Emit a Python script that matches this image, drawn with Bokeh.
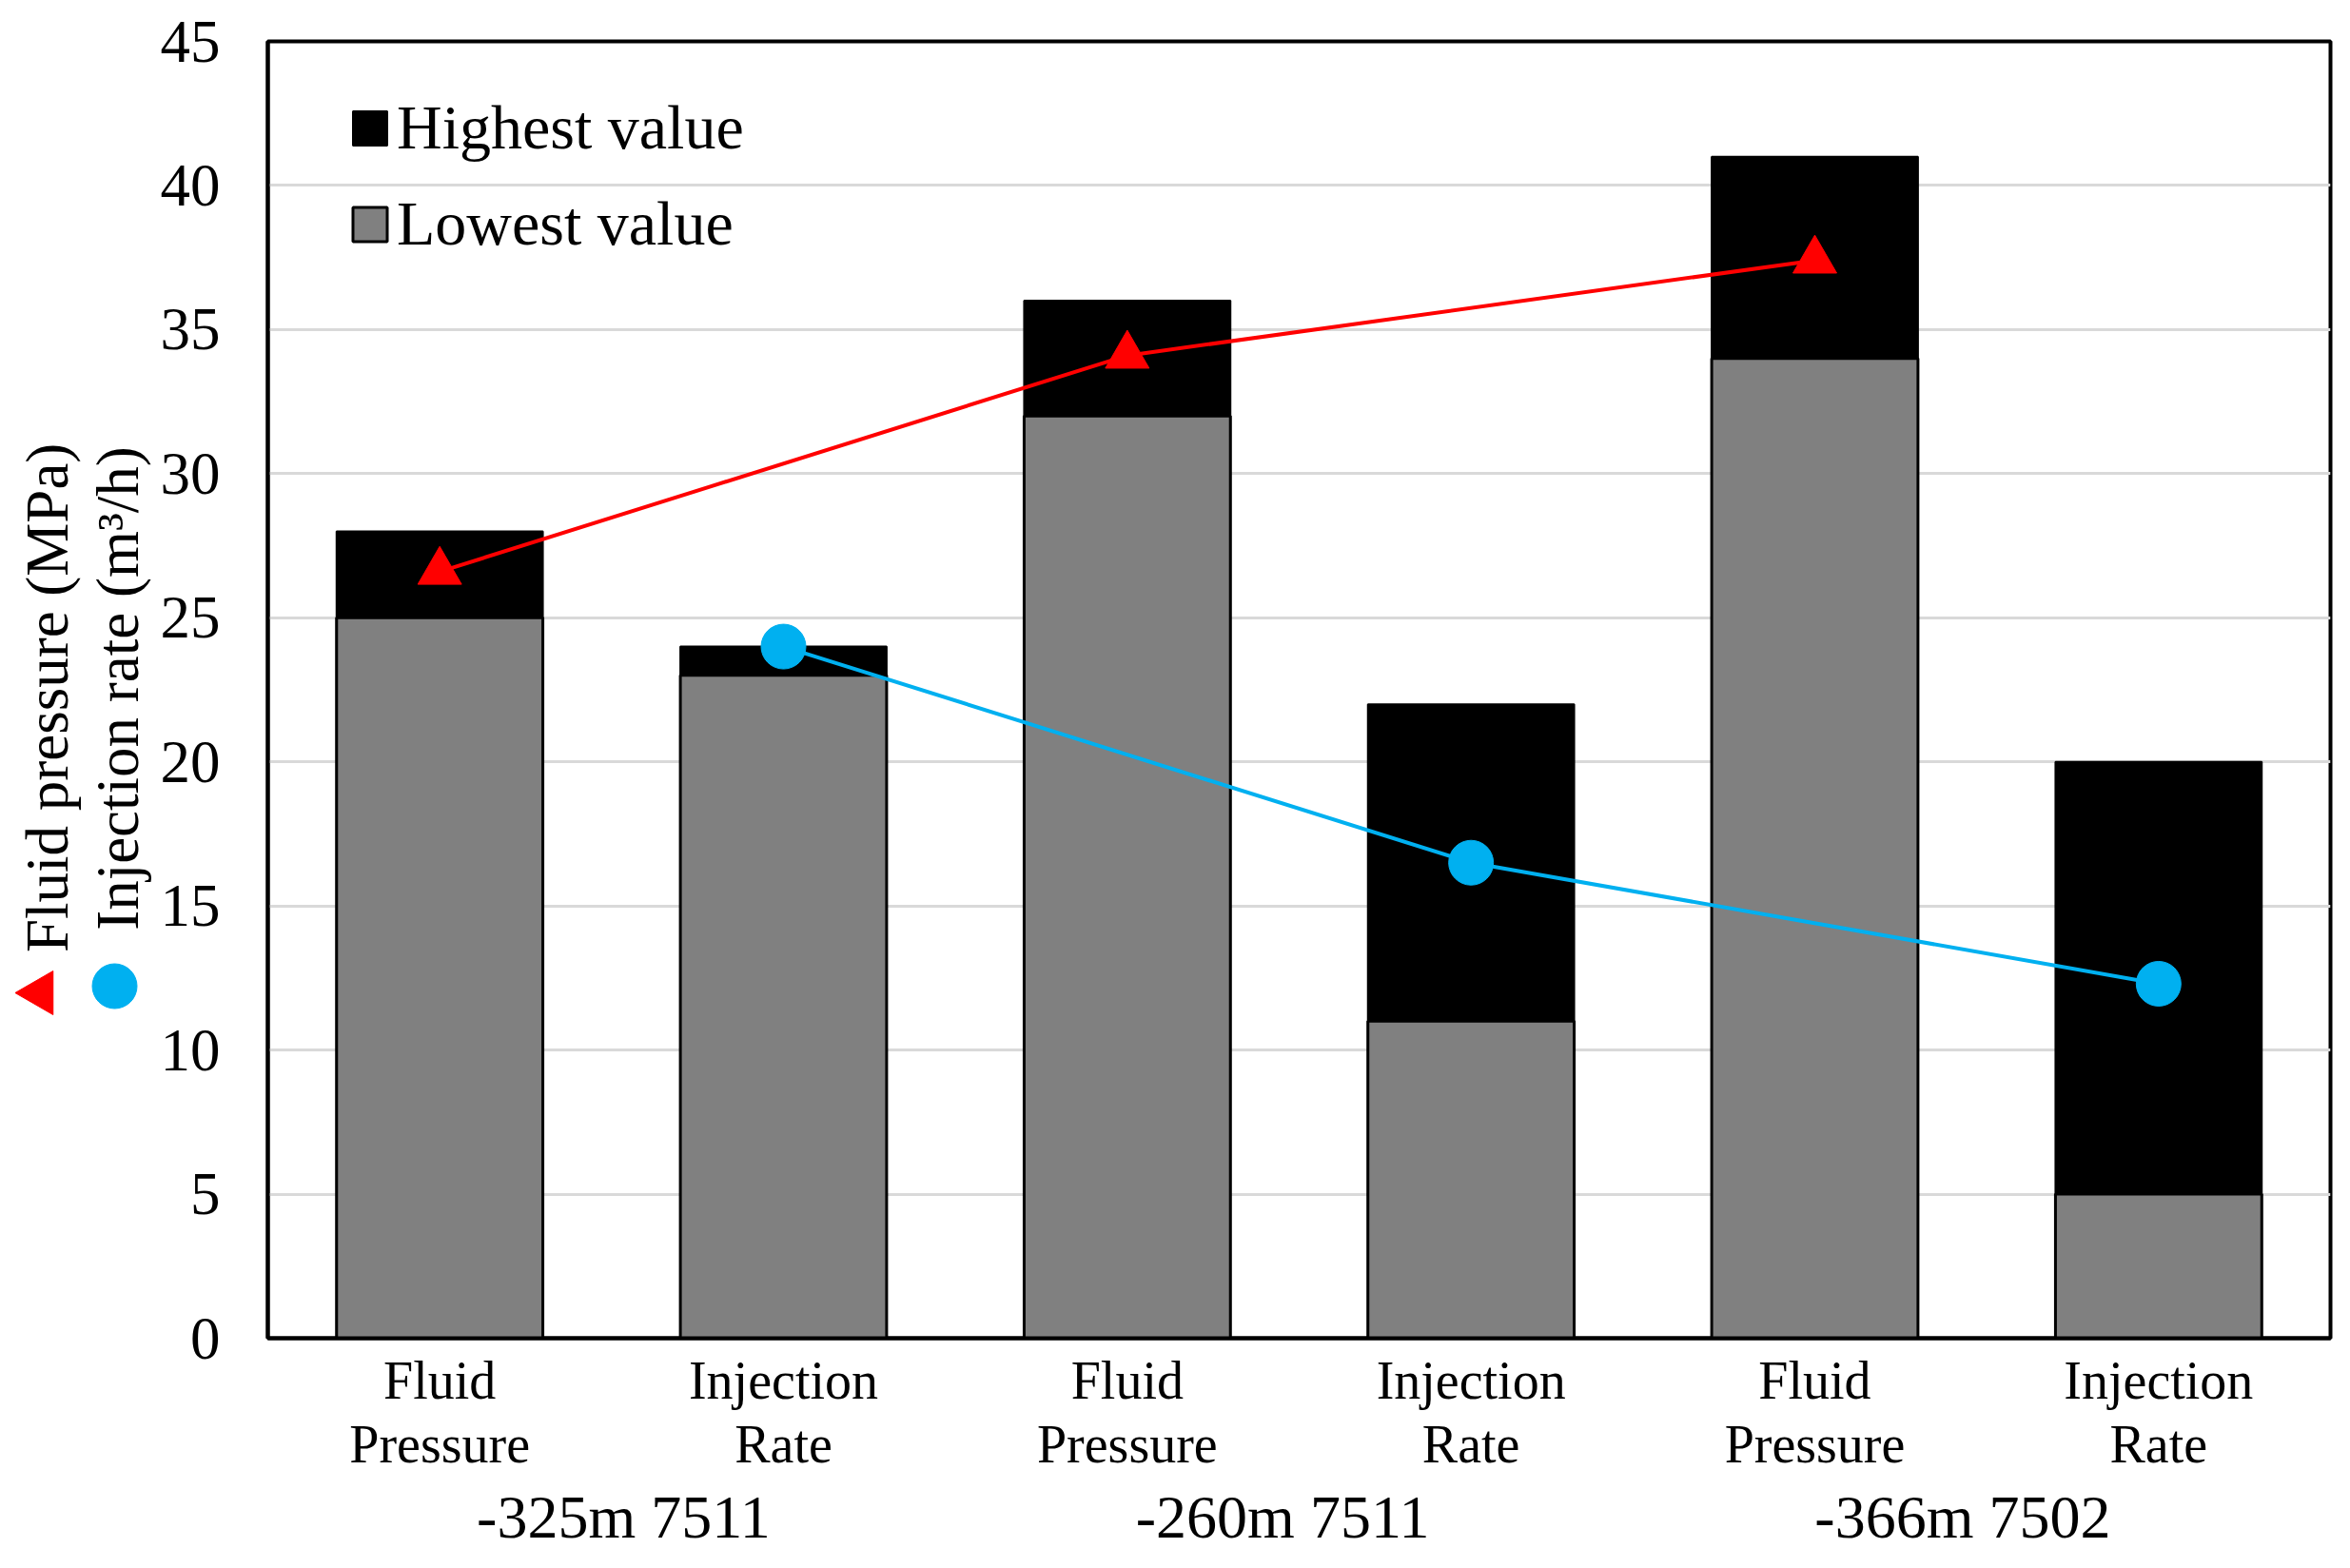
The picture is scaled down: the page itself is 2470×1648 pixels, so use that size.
import math
from bokeh.plotting import figure
from bokeh.layouts import row
from bokeh.models import Label, Legend, LegendItem, FixedTicker, LinearAxis
from bokeh.embed import file_html
from bokeh.resources import INLINE

# ---- data ----
categories = ["Fluid\nPressure", "Injection\nRate", "Fluid\nPressure",
              "Injection\nRate", "Fluid\nPressure", "Injection\nRate"]
groups = ["-325m 7511", "-260m 7511", "-366m 7502"]
lowest = [25, 23, 32, 11, 34, 5]
highest = [28, 24, 36, 22, 41, 20]
fluid_pressure = [26.6, 34.1, 37.4]   # on the Fluid Pressure bars
injection_rate = [24.0, 16.5, 12.3]   # on the Injection Rate bars
y_ticks = [0, 5, 10, 15, 20, 25, 30, 35, 40, 45]
y_titles = ["Fluid pressure  (MPa)", "Injection rate (m³/h)"]

# small horizontal nudges of the group captions (style, in category widths)
group_label_nudge = [0.035, -0.048, -0.07]

FONT = "Liberation Serif"
RED = "#ff0000"
BLUE = "#00b0f0"

x = [i + 0.5 for i in range(len(categories))]
fp_x = x[0::2]
ir_x = x[1::2]
group_x = [(x[2 * i] + x[2 * i + 1]) / 2 + group_label_nudge[i] for i in range(len(groups))]

TOTAL_W, TOTAL_H = 2454, 1632
TITLE_W = 165
B_TOP, B_BOTTOM = 43, 226          # borders around the plot frame

# ---- narrow panel on the left holding the two-line y title with its keys ----
# its frame is aligned with the main frame; data units here are pixels from the canvas bottom
t = figure(width=TITLE_W, height=TOTAL_H, x_range=(0, TITLE_W),
           y_range=(B_BOTTOM, TOTAL_H - B_TOP),
           output_backend="svg", toolbar_location=None,
           min_border_left=0, min_border_right=0,
           min_border_top=B_TOP, min_border_bottom=B_BOTTOM,
           x_axis_location=None, y_axis_location=None, title=None)
t.grid.visible = False
t.outline_line_color = None
t.background_fill_color = "white"
t.border_fill_color = "white"
t.add_layout(Label(x=49, y=TOTAL_H - 725, text=y_titles[0], angle=math.pi / 2,
                   text_align="center", text_baseline="middle",
                   text_font=FONT, text_font_size="63px", text_color="black"))
t.add_layout(Label(x=123, y=TOTAL_H - 723, text=y_titles[1], angle=math.pi / 2,
                   text_align="center", text_baseline="middle",
                   text_font=FONT, text_font_size="63px", text_color="black"))
t.scatter([42], [TOTAL_H - 1043], marker="triangle", angle=math.pi / 2, size=46,
          fill_color=RED, line_color=RED)
t.scatter([120], [TOTAL_H - 1036], marker="circle", size=47,
          fill_color=BLUE, line_color=BLUE)

# ---- main chart ----
p = figure(width=TOTAL_W - TITLE_W, height=TOTAL_H, x_range=(0, len(categories)), y_range=(0, 45),
           output_backend="svg", toolbar_location=None,
           min_border_left=280 - TITLE_W, min_border_right=5,
           min_border_top=B_TOP, min_border_bottom=B_BOTTOM)
p.background_fill_color = "white"
p.border_fill_color = "white"
p.outline_line_color = "black"
p.outline_line_width = 4

p.xgrid.grid_line_color = None
p.ygrid.grid_line_color = "#d9d9d9"
p.ygrid.grid_line_width = 3

p.yaxis.ticker = FixedTicker(ticks=y_ticks)
p.yaxis.major_tick_line_color = None
p.yaxis.minor_tick_line_color = None
p.yaxis.axis_line_color = "black"
p.yaxis.axis_line_width = 4
p.yaxis.major_label_text_font = FONT
p.yaxis.major_label_text_font_size = "63px"
p.yaxis.major_label_text_color = "black"
p.yaxis.major_label_standoff = 44

p.xaxis.ticker = FixedTicker(ticks=x)
p.xaxis.major_label_overrides = {xi: c for xi, c in zip(x, categories)}
p.xaxis.major_tick_line_color = None
p.xaxis.minor_tick_line_color = None
p.xaxis.axis_line_color = "black"
p.xaxis.axis_line_width = 4
p.xaxis.major_label_text_font = FONT
p.xaxis.major_label_text_font_size = "56px"
p.xaxis.major_label_text_line_height = 1.09
p.xaxis.major_label_text_color = "black"
p.xaxis.major_label_standoff = 7

gax = LinearAxis(ticker=FixedTicker(ticks=group_x),
                 major_label_overrides={gx: g for gx, g in zip(group_x, groups)},
                 axis_line_color=None, major_tick_line_color=None, minor_tick_line_color=None,
                 major_label_text_font=FONT, major_label_text_font_size="64px",
                 major_label_text_color="black", major_label_standoff=0)
p.add_layout(gax, "below")

r_high = p.vbar(x=x, top=highest, bottom=0, width=0.6,
                fill_color="black", line_color="black", line_width=2)
r_low = p.vbar(x=x, top=lowest, bottom=0, width=0.6,
               fill_color="#808080", line_color="black", line_width=3)

p.line(fp_x, fluid_pressure, line_color=RED, line_width=4)
p.scatter(fp_x, fluid_pressure, marker="triangle", size=46,
          fill_color=RED, line_color=RED)
p.line(ir_x, injection_rate, line_color=BLUE, line_width=4)
p.scatter(ir_x, injection_rate, marker="circle", size=47,
          fill_color=BLUE, line_color=BLUE)

legend = Legend(items=[LegendItem(label="Highest value", renderers=[r_high]),
                       LegendItem(label="Lowest value", renderers=[r_low])],
                location=(85, 1133), orientation="vertical",
                background_fill_alpha=0, border_line_color=None,
                glyph_width=45, glyph_height=45, label_standoff=6,
                spacing=25, padding=0, margin=0,
                label_text_font=FONT, label_text_font_size="66px",
                label_text_color="black")
p.add_layout(legend)

open("out.html", "w").write(file_html(row(t, p), INLINE))
